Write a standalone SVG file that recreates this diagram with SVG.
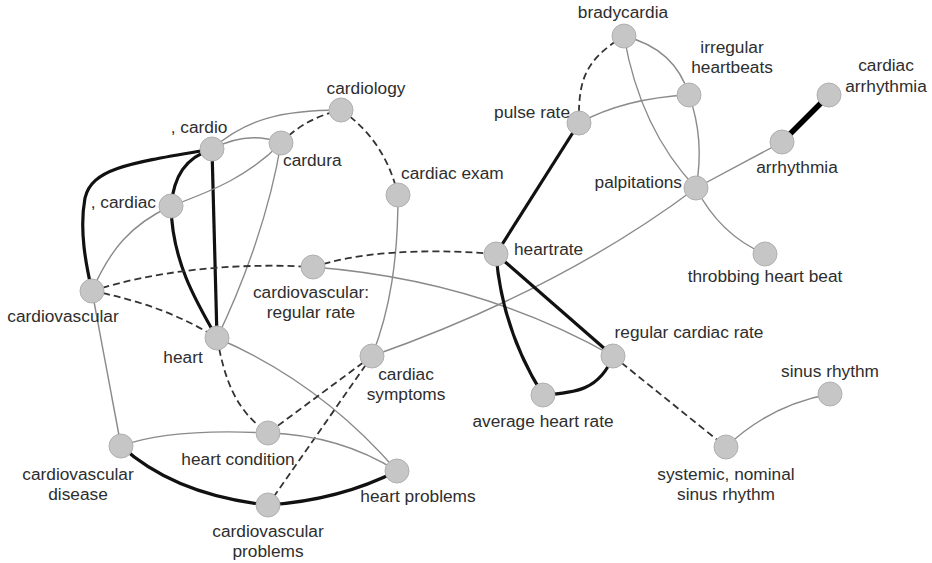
<svg xmlns="http://www.w3.org/2000/svg" width="932" height="563" viewBox="0 0 932 563">
<style>
.bg{fill:#ffffff}
.e{fill:none;stroke:#8a8a8a;stroke-width:1.4}
.d{fill:none;stroke:#333;stroke-width:1.8;stroke-dasharray:7,4}
.t{fill:none;stroke:#111;stroke-width:3.2}
.tt{fill:none;stroke:#000;stroke-width:5.5}
.n circle{fill:#c6c6c6;stroke:#b0b0b0;stroke-width:1}
text{font-family:"Liberation Sans",Arial,sans-serif;font-size:17.3px;fill:#2e2e2e}
.m{text-anchor:middle}
.en{text-anchor:end}
</style>
<rect class="bg" x="0" y="0" width="932" height="563"/>
<g id="connectors">
<path class="t" d="M212,149 C130,163 92,168 85,198 C79,230 86,265 92,291"/>
<path class="t" d="M212,149 L217,338"/>
<path class="t" d="M212,149 C185,158 174,176 171,206"/>
<path class="t" d="M171,206 C172,260 195,300 217,338"/>
<path class="e" d="M212,149 Q248,130 281,143"/>
<path class="e" d="M212,149 C245,120 280,110 341,110"/>
<path class="d" d="M281,143 Q305,118 341,110"/>
<path class="d" d="M341,110 Q385,140 398,195"/>
<path class="e" d="M398,195 C398,260 390,310 372,356"/>
<path class="e" d="M281,143 C250,175 215,190 171,206"/>
<path class="e" d="M281,143 C270,210 245,280 217,338"/>
<path class="e" d="M171,206 C130,225 110,250 92,291"/>
<path class="d" d="M92,291 C150,272 230,262 313,267"/>
<path class="d" d="M92,291 Q165,305 217,338"/>
<path class="e" d="M92,291 L121,446"/>
<path class="d" d="M217,338 C225,380 235,410 268,433"/>
<path class="e" d="M217,338 Q320,382 397,471"/>
<path class="d" d="M372,356 L268,433"/>
<path class="d" d="M372,356 L268,505"/>
<path class="e" d="M372,356 Q560,290 696,188"/>
<path class="e" d="M313,267 Q480,280 613,356"/>
<path class="d" d="M313,267 Q380,245 496,254"/>
<path class="t" d="M496,254 L579,123"/>
<path class="t" d="M496,254 Q502,330 543,395"/>
<path class="t" d="M496,254 L613,356"/>
<path class="t" d="M543,395 C575,393 600,390 613,356"/>
<path class="d" d="M613,356 L726,447"/>
<path class="e" d="M726,447 Q770,405 830,394"/>
<path class="d" d="M579,123 C578,80 585,60 624,36"/>
<path class="e" d="M579,123 Q625,98 689,95"/>
<path class="e" d="M624,36 C660,45 680,65 689,95"/>
<path class="e" d="M624,36 C635,100 660,150 696,188"/>
<path class="e" d="M689,95 Q705,140 696,188"/>
<path class="e" d="M696,188 L782,142"/>
<path class="tt" d="M782,142 L829,95"/>
<path class="e" d="M696,188 Q720,235 765,254"/>
<path class="e" d="M121,446 Q170,428 268,433"/>
<path class="e" d="M268,433 Q340,435 397,471"/>
<path class="t" d="M121,446 Q175,495 268,505"/>
<path class="t" d="M268,505 Q340,500 397,471"/>
</g>
<g id="cardio" class="n"><circle cx="212" cy="149" r="12"/><text class="m" x="199" y="133">, cardio</text></g>
<g id="cardura" class="n"><circle cx="281" cy="143" r="12"/><text x="283" y="166">cardura</text></g>
<g id="cardiac" class="n"><circle cx="171" cy="206" r="12"/><text class="en" x="156" y="208">, cardiac</text></g>
<g id="cardiology" class="n"><circle cx="341" cy="110" r="12"/><text class="m" x="366" y="94">cardiology</text></g>
<g id="cardiac-exam" class="n"><circle cx="398" cy="195" r="12"/><text x="401" y="179">cardiac exam</text></g>
<g id="heartrate" class="n"><circle cx="496" cy="254" r="12"/><text x="514" y="255">heartrate</text></g>
<g id="cv-regular-rate" class="n"><circle cx="313" cy="267" r="12"/><text class="m" x="311" y="298">cardiovascular:</text><text class="m" x="311" y="318">regular rate</text></g>
<g id="cardiovascular" class="n"><circle cx="92" cy="291" r="12"/><text class="m" x="63" y="322">cardiovascular</text></g>
<g id="heart" class="n"><circle cx="217" cy="338" r="12"/><text class="m" x="183" y="363">heart</text></g>
<g id="cardiac-symptoms" class="n"><circle cx="372" cy="356" r="12"/><text class="m" x="406" y="380">cardiac</text><text class="m" x="406" y="400">symptoms</text></g>
<g id="average-heart-rate" class="n"><circle cx="543" cy="395" r="12"/><text class="m" x="543" y="427">average heart rate</text></g>
<g id="regular-cardiac-rate" class="n"><circle cx="613" cy="356" r="12"/><text class="m" x="689" y="338">regular cardiac rate</text></g>
<g id="sinus-rhythm" class="n"><circle cx="830" cy="394" r="12"/><text class="m" x="830" y="377">sinus rhythm</text></g>
<g id="systemic-nominal" class="n"><circle cx="726" cy="447" r="12"/><text class="m" x="726" y="480">systemic, nominal</text><text class="m" x="726" y="500">sinus rhythm</text></g>
<g id="heart-condition" class="n"><circle cx="268" cy="433" r="12"/><text class="m" x="238" y="465">heart condition</text></g>
<g id="cv-disease" class="n"><circle cx="121" cy="446" r="12"/><text class="m" x="78" y="480">cardiovascular</text><text class="m" x="78" y="500">disease</text></g>
<g id="heart-problems" class="n"><circle cx="397" cy="471" r="12"/><text class="m" x="418" y="502">heart problems</text></g>
<g id="cv-problems" class="n"><circle cx="268" cy="505" r="12"/><text class="m" x="268" y="537">cardiovascular</text><text class="m" x="268" y="557">problems</text></g>
<g id="pulse-rate" class="n"><circle cx="579" cy="123" r="12"/><text class="en" x="570" y="118">pulse rate</text></g>
<g id="bradycardia" class="n"><circle cx="624" cy="36" r="12"/><text class="m" x="623" y="18">bradycardia</text></g>
<g id="irregular-heartbeats" class="n"><circle cx="689" cy="95" r="12"/><text class="m" x="732" y="53">irregular</text><text class="m" x="732" y="73">heartbeats</text></g>
<g id="palpitations" class="n"><circle cx="696" cy="188" r="12"/><text class="en" x="682" y="188">palpitations</text></g>
<g id="arrhythmia" class="n"><circle cx="782" cy="142" r="12"/><text class="m" x="797" y="173">arrhythmia</text></g>
<g id="cardiac-arrhythmia" class="n"><circle cx="829" cy="95" r="12"/><text class="m" x="886" y="71">cardiac</text><text class="m" x="886" y="92">arrhythmia</text></g>
<g id="throbbing-heart-beat" class="n"><circle cx="765" cy="254" r="12"/><text class="m" x="765" y="282">throbbing heart beat</text></g>
</svg>
